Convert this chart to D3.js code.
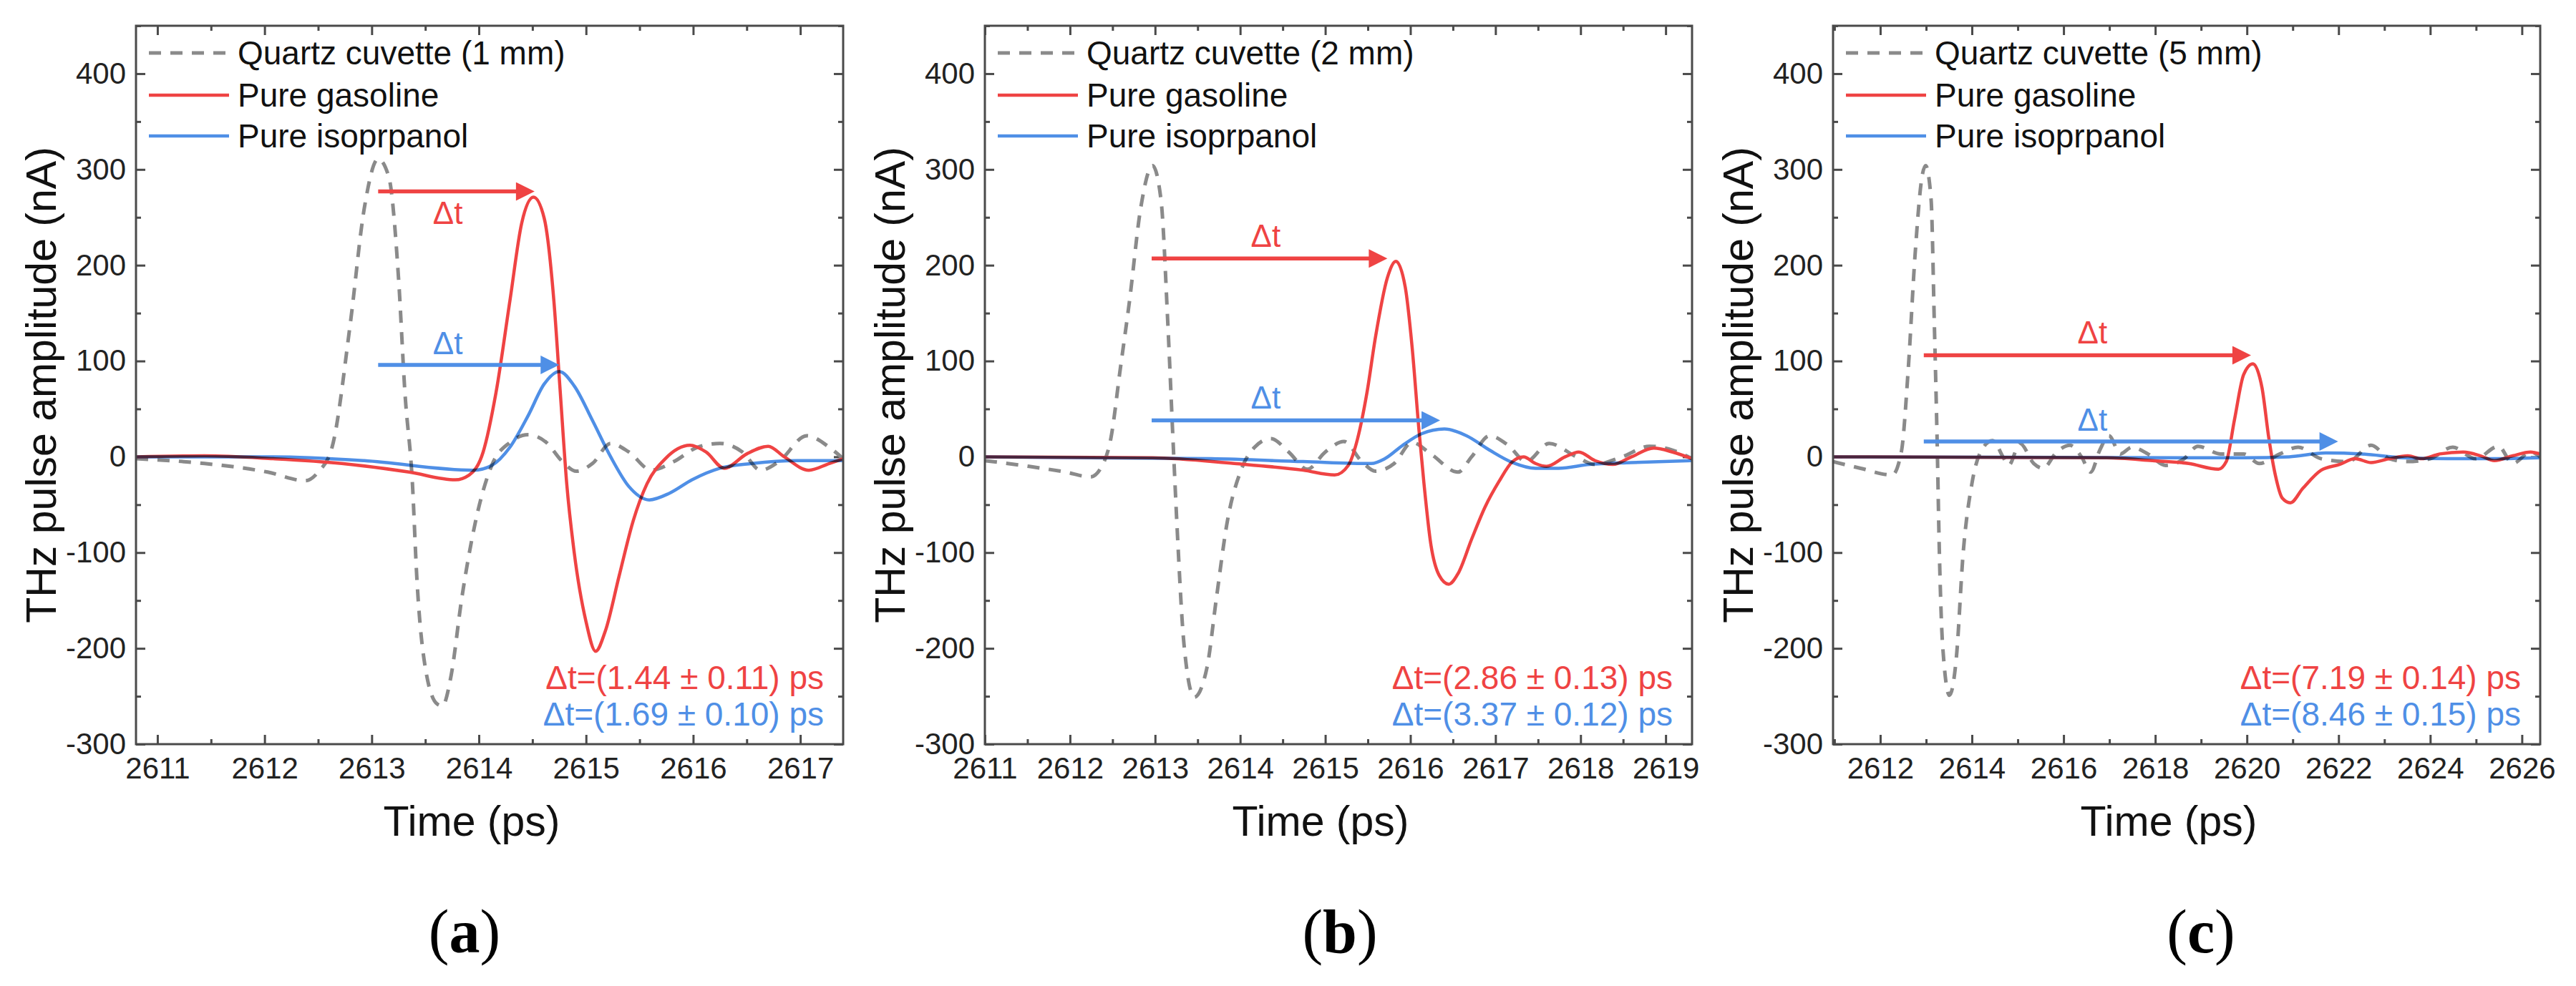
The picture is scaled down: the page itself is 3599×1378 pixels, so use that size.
<!DOCTYPE html>
<html>
<head>
  <meta charset="utf-8">
  <title>THz pulse traces</title>
  <script src="https://d3js.org/d3.v7.min.js"></script>
  <style>
    body { margin: 0; background: #fff; }
    text { font-family: "Liberation Sans", Arial, sans-serif; }
  </style>
</head>
<body>
<script>
// ---- data (time in ps, amplitude in nA) ----
var quartz1mm = [[2610.8,-2],[2611.44,-7],[2612.03,-16],[2612.38,-25],[2612.50,-16],[2612.63,10],[2612.80,139],[2612.93,259],[2613.06,311],[2613.16,292],[2613.25,187],[2613.31,67],[2613.38,-28],[2613.42,-124],[2613.50,-220],[2613.61,-258],[2613.66,-260],[2613.74,-229],[2613.84,-148],[2613.97,-67],[2614.12,-9],[2614.29,15],[2614.46,23],[2614.63,15],[2614.78,-5],[2614.91,-15],[2615.06,-7],[2615.23,14],[2615.40,5],[2615.61,-14],[2615.82,-5],[2616.04,10],[2616.25,14],[2616.46,5],[2616.63,-14],[2616.80,-5],[2617.06,22],[2617.27,10],[2617.40,-2]];
var gasolineA = [[2610.8,0],[2611.44,1],[2612.08,-2],[2612.72,-7],[2613.35,-16],[2613.78,-24],[2613.91,-19],[2614.04,5],[2614.16,67],[2614.29,163],[2614.40,244],[2614.51,271],[2614.61,249],[2614.70,163],[2614.76,67],[2614.82,-28],[2614.89,-100],[2615.00,-172],[2615.09,-203],[2615.18,-182],[2615.31,-124],[2615.44,-67],[2615.57,-28],[2615.74,-2],[2615.97,12],[2616.12,5],[2616.29,-12],[2616.50,3],[2616.70,11],[2616.85,0],[2617.08,-14],[2617.27,-7],[2617.40,-2]];
var isopropA = [[2610.8,0],[2612.08,0],[2612.93,-4],[2613.95,-14],[2614.12,-9],[2614.29,10],[2614.46,43],[2614.61,76],[2614.75,89],[2614.89,74],[2615.06,38],[2615.23,0],[2615.40,-31],[2615.59,-45],[2615.78,-38],[2615.99,-24],[2616.25,-12],[2616.55,-7],[2616.97,-4],[2617.40,-4]];

var quartz2mm = [[2611.0,-4],[2611.52,-10],[2611.95,-16],[2612.24,-21],[2612.38,-9],[2612.48,19],[2612.59,91],[2612.70,163],[2612.83,259],[2612.97,304],[2613.07,268],[2613.15,139],[2613.21,19],[2613.26,-76],[2613.34,-196],[2613.46,-251],[2613.61,-220],[2613.72,-148],[2613.85,-67],[2614.01,-14],[2614.17,10],[2614.36,19],[2614.57,5],[2614.79,-13],[2615.00,5],[2615.22,16],[2615.43,-5],[2615.59,-15],[2615.81,-7],[2616.02,15],[2616.24,3],[2616.56,-16],[2616.72,0],[2616.93,22],[2617.15,12],[2617.36,-5],[2617.63,14],[2617.95,0],[2618.17,-8],[2618.49,0],[2618.81,11],[2619.08,7],[2619.31,-2]];
var gasolineB = [[2611.0,0],[2612.97,-1],[2613.93,-7],[2614.74,-14],[2615.11,-19],[2615.27,-9],[2615.38,19],[2615.49,67],[2615.59,125],[2615.73,187],[2615.83,204],[2615.94,177],[2616.02,115],[2616.10,29],[2616.16,-28],[2616.24,-91],[2616.34,-124],[2616.45,-133],[2616.56,-122],[2616.72,-86],[2616.88,-52],[2617.04,-26],[2617.20,-5],[2617.33,0],[2617.47,-7],[2617.60,-10],[2617.82,0],[2617.98,5],[2618.17,-4],[2618.38,-8],[2618.60,0],[2618.86,9],[2619.08,5],[2619.31,-2]];
var isopropB = [[2611.0,0],[2613.66,-2],[2614.74,-5],[2615.54,-7],[2615.70,-2],[2615.91,12],[2616.13,24],[2616.40,29],[2616.66,22],[2616.93,7],[2617.20,-6],[2617.47,-12],[2617.74,-12],[2618.11,-8],[2618.60,-6],[2619.31,-4]];

var quartz5mm = [[2610.97,-5],[2611.57,-12],[2612.26,-19],[2612.46,5],[2612.61,91],[2612.76,211],[2612.91,292],[2612.99,304],[2613.11,268],[2613.18,139],[2613.24,19],[2613.29,-100],[2613.36,-196],[2613.51,-249],[2613.66,-210],[2613.81,-100],[2614.00,-28],[2614.25,10],[2614.45,17],[2614.70,-2],[2614.80,-9],[2615.05,14],[2615.35,-7],[2615.55,-12],[2615.85,5],[2616.14,12],[2616.39,0],[2616.59,-16],[2616.79,7],[2616.99,22],[2617.24,3],[2617.49,10],[2617.84,3],[2618.23,-9],[2618.63,-2],[2618.93,11],[2619.43,3],[2619.93,3],[2620.27,-7],[2620.72,3],[2621.12,10],[2621.62,-2],[2622.21,-5],[2622.71,12],[2623.11,-2],[2623.50,-5],[2624.00,-2],[2624.49,10],[2624.99,-2],[2625.49,11],[2625.80,-7],[2626.19,5],[2626.40,0]];
var gasolineC = [[2610.97,0],[2616.94,-1],[2617.94,-4],[2618.73,-7],[2619.38,-13],[2619.55,-5],[2619.73,39],[2619.93,86],[2620.13,97],[2620.33,72],[2620.48,19],[2620.62,-19],[2620.77,-43],[2620.95,-48],[2621.22,-33],[2621.62,-14],[2622.02,-8],[2622.36,-2],[2622.71,-6],[2623.11,-2],[2623.51,1],[2623.81,-2],[2624.21,3],[2624.72,5],[2625.10,1],[2625.40,-4],[2625.80,1],[2626.19,5],[2626.40,3]];
var isopropC = [[2610.97,0],[2618.93,-1],[2619.93,-1],[2620.92,0],[2621.72,4],[2622.51,3],[2623.40,-1],[2624.39,-2],[2625.40,-2],[2626.40,-1]];

// axis ranges and ticks
var xDomains = [[2610.8,2617.4],[2611,2619.31],[2610.97,2626.4]];
var xTicksA = [2611,2612,2613,2614,2615,2616,2617];
var xTicksB = [2611,2612,2613,2614,2615,2616,2617,2618,2619];
var xTicksC = [2612,2614,2616,2618,2620,2622,2624,2626];
var xMinorStep = [0.5,0.5,1];
var yDomain = [-300,450];
var yTicks = [-300,-200,-100,0,100,200,300,400];

// legend and annotations
var legendNames = [["Quartz cuvette (1 mm)","Pure gasoline","Pure isoprpanol"],
                   ["Quartz cuvette (2 mm)","Pure gasoline","Pure isoprpanol"],
                   ["Quartz cuvette (5 mm)","Pure gasoline","Pure isoprpanol"]];
var dtGasoline = ["Δt=(1.44 ± 0.11) ps","Δt=(2.86 ± 0.13) ps","Δt=(7.19 ± 0.14) ps"];
var dtIsoprop  = ["Δt=(1.69 ± 0.10) ps","Δt=(3.37 ± 0.12) ps","Δt=(8.46 ± 0.15) ps"];
// arrows: [start time, end time, level]
var arrowGas = [[2613.06,2614.52,277],[2612.96,2615.73,207],[2612.95,2620.09,106]];
var arrowIso = [[2613.06,2614.75,96],[2612.96,2616.35,38],[2612.95,2621.99,16]];
// "Δt" labels over the arrows: [time, level]
var dtLabelGas = [[2613.71,243],[2614.30,219],[2616.63,118]];
var dtLabelIso = [[2613.71,107],[2614.30,50],[2616.63,27]];
var panelLetters = ["a","b","c"];

var series = [[quartz1mm,gasolineA,isopropA],[quartz2mm,gasolineB,isopropB],[quartz5mm,gasolineC,isopropC]];
var xTicks = [xTicksA,xTicksB,xTicksC];

var RED = "#ef4343", BLUE = "#4f8fe6", GREY = "#8a8a8a", AXIS = "#4a4a4a";
var plain = function(d) { return String(d); };   // keep the ASCII hyphen on negatives

var svg = d3.select("body").append("svg")
    .attr("width", 3599).attr("height", 1378);

var defs = svg.append("defs");
[["headRed", RED], ["headBlue", BLUE]].forEach(function(m) {
  defs.append("marker").attr("id", m[0])
      .attr("viewBox","0 0 10 10").attr("refX",10).attr("refY",5)
      .attr("markerUnits","userSpaceOnUse").attr("markerWidth",50).attr("markerHeight",26)
      .attr("orient","auto")
    .append("path").attr("d","M0,0L10,5L0,10Z").attr("fill",m[1]);
});

var lefts = [190, 1376, 2561], plotW = 988, plotTop = 36, plotBottom = 1040;
var letterX = [649, 1872, 3075];

lefts.forEach(function(left, i) {
  var x = d3.scaleLinear().domain(xDomains[i]).range([left, left + plotW]);
  var y = d3.scaleLinear().domain(yDomain).range([plotBottom, plotTop]);
  var g = svg.append("g");

  defs.append("clipPath").attr("id","clip"+i)
    .append("rect").attr("x",left).attr("y",plotTop).attr("width",plotW).attr("height",plotBottom-plotTop);

  var step = xMinorStep[i];
  var minor = d3.range(Math.ceil(xDomains[i][0]/step)*step, xDomains[i][1], step)
    .filter(function(v){ return xTicks[i].indexOf(v) < 0; });
  var yMinor = d3.range(-250, 451, 100);

  function styleAxis(sel) {
    sel.select(".domain").remove();
    sel.selectAll("line").attr("stroke", AXIS).attr("stroke-width", 3);
    sel.selectAll("text").attr("fill","#222").style("font-size","42px")
       .style("font-family","'Liberation Sans', Arial, sans-serif");
  }
  // major ticks (inward on all sides)
  g.append("g").attr("transform","translate(0,"+plotBottom+")")
    .call(d3.axisBottom(x).tickValues(xTicks[i]).tickSize(-13).tickPadding(18).tickFormat(plain))
    .call(styleAxis);
  g.append("g").attr("transform","translate(0,"+plotTop+")")
    .call(d3.axisTop(x).tickValues(xTicks[i]).tickSize(-13).tickFormat(""))
    .call(styleAxis);
  g.append("g").attr("transform","translate("+left+",0)")
    .call(d3.axisLeft(y).tickValues(yTicks).tickSize(-13).tickPadding(14).tickFormat(plain))
    .call(styleAxis);
  g.append("g").attr("transform","translate("+(left+plotW)+",0)")
    .call(d3.axisRight(y).tickValues(yTicks).tickSize(-13).tickFormat(""))
    .call(styleAxis);
  // minor ticks
  g.append("g").attr("transform","translate(0,"+plotBottom+")")
    .call(d3.axisBottom(x).tickValues(minor).tickSize(-7).tickFormat("")).call(styleAxis);
  g.append("g").attr("transform","translate(0,"+plotTop+")")
    .call(d3.axisTop(x).tickValues(minor).tickSize(-7).tickFormat("")).call(styleAxis);
  g.append("g").attr("transform","translate("+left+",0)")
    .call(d3.axisLeft(y).tickValues(yMinor).tickSize(-7).tickFormat("")).call(styleAxis);
  g.append("g").attr("transform","translate("+(left+plotW)+",0)")
    .call(d3.axisRight(y).tickValues(yMinor).tickSize(-7).tickFormat("")).call(styleAxis);

  // curves
  var line = d3.line().curve(d3.curveMonotoneX)
    .x(function(d){ return x(d[0]); }).y(function(d){ return y(d[1]); });
  var curves = g.append("g").attr("clip-path","url(#clip"+i+")");
  curves.append("path").attr("d", line(series[i][0]))
    .attr("fill","none").attr("stroke",GREY).attr("stroke-width",5)
    .attr("stroke-dasharray","17,13");
  curves.append("path").attr("d", line(series[i][1]))
    .attr("fill","none").attr("stroke",RED).attr("stroke-width",4.5)
    .attr("stroke-linejoin","round");
  curves.append("path").attr("d", line(series[i][2]))
    .attr("fill","none").attr("stroke",BLUE).attr("stroke-width",4.5)
    .attr("stroke-linejoin","round").style("mix-blend-mode","multiply");

  // frame
  g.append("rect").attr("x",left).attr("y",plotTop).attr("width",plotW).attr("height",plotBottom-plotTop)
    .attr("fill","none").attr("stroke",AXIS).attr("stroke-width",3);

  // arrows
  [[arrowGas[i], RED, "headRed"], [arrowIso[i], BLUE, "headBlue"]].forEach(function(a) {
    g.append("line")
      .attr("x1", x(a[0][0])).attr("x2", x(a[0][1]) - 20)
      .attr("y1", y(a[0][2])).attr("y2", y(a[0][2]))
      .attr("stroke", a[1]).attr("stroke-width", 5.5);
    g.append("line")
      .attr("x1", x(a[0][1]) - 22).attr("x2", x(a[0][1]))
      .attr("y1", y(a[0][2])).attr("y2", y(a[0][2]))
      .attr("stroke", "none").attr("stroke-width", 5.5)
      .attr("marker-end", "url(#"+a[2]+")");
  });
  g.append("text").attr("x", x(dtLabelGas[i][0])).attr("y", y(dtLabelGas[i][1]))
    .attr("text-anchor","middle").attr("fill",RED).style("font-size","44px").text("Δt");
  g.append("text").attr("x", x(dtLabelIso[i][0])).attr("y", y(dtLabelIso[i][1]))
    .attr("text-anchor","middle").attr("fill",BLUE).style("font-size","44px").text("Δt");

  // legend
  var legY = [74, 133, 190];
  var legStyle = [[GREY,"17,13",5],[RED,null,4.5],[BLUE,null,4.5]];
  legY.forEach(function(ly, k) {
    g.append("line").attr("x1", left+18).attr("x2", left+130).attr("y1", ly).attr("y2", ly)
      .attr("stroke", legStyle[k][0]).attr("stroke-width", legStyle[k][2])
      .attr("stroke-dasharray", legStyle[k][1]);
    g.append("text").attr("x", left+142).attr("y", ly).attr("dy","0.35em")
      .attr("fill","#111").style("font-size","46px").text(legendNames[i][k]);
  });

  // Δt values
  g.append("text").attr("x", left+plotW-27).attr("y", 963).attr("text-anchor","end")
    .attr("fill",RED).style("font-size","46px").text(dtGasoline[i]);
  g.append("text").attr("x", left+plotW-27).attr("y", 1014).attr("text-anchor","end")
    .attr("fill",BLUE).style("font-size","46px").text(dtIsoprop[i]);

  // axis titles
  g.append("text").attr("x", left+plotW/2-25).attr("y", 1168).attr("text-anchor","middle")
    .attr("fill","#111").style("font-size","59px").text("Time (ps)");
  g.append("text")
    .attr("transform","translate("+(left-133)+","+((plotTop+plotBottom)/2)+") rotate(-90)")
    .attr("text-anchor","middle").attr("dy","0.35em")
    .attr("fill","#111").style("font-size","59px").text("THz pulse amplitude (nA)");

  // panel letter
  var lt = svg.append("text").attr("x", letterX[i]).attr("y", 1331).attr("text-anchor","middle")
    .style("font-family","'Liberation Serif', 'Times New Roman', serif").style("font-size","86px")
    .attr("fill","#000");
  lt.append("tspan").text("(");
  lt.append("tspan").attr("font-weight","bold").text(panelLetters[i]);
  lt.append("tspan").text(")");
});
</script>
</body>
</html>
